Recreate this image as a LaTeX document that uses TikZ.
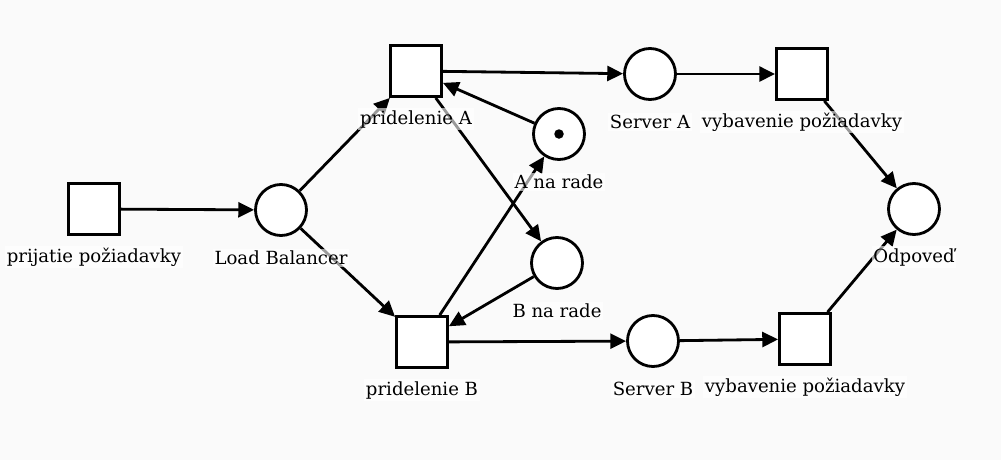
\documentclass[tikz,border=0pt]{standalone}
\usepackage{fontspec}
\setmainfont{DejaVu Serif}
\usetikzlibrary{arrows.meta}
\definecolor{bgcol}{HTML}{FAFAFA}
\tikzset{
  place/.style={circle, draw, line width=1.6pt, fill=white, minimum size=1.02cm, inner sep=0pt},
  trans/.style={rectangle, draw, line width=1.6pt, fill=white, minimum size=1.02cm, inner sep=0pt},
  arc/.style={line width=1.6pt, -{Triangle[length=9pt,width=8.5pt]}},
  lbl/.style={fill=white, fill opacity=0.6, text opacity=1, inner sep=1pt, font=\fontsize{10.3}{12}\selectfont}
}
\begin{document}
\begin{tikzpicture}
  \fill[bgcol] (0,0) rectangle (20.02,-9.2);
  \useasboundingbox (0,0) rectangle (20.02,-9.2);
  % places and transitions
  \node[trans] (prijatie) at (1.88,-4.18) {};
  \node[place] (lb) at (5.62,-4.20) {};
  \node[trans] (prA) at (8.32,-1.42) {};
  \node[place] (qA) at (11.18,-2.68) {};
  \node[place] (qB) at (11.14,-5.26) {};
  \node[trans] (prB) at (8.44,-6.84) {};
  \node[place] (srvA) at (13.00,-1.48) {};
  \node[trans] (vybA) at (16.04,-1.48) {};
  \node[place] (odp) at (18.28,-4.18) {};
  \node[place] (srvB) at (13.06,-6.82) {};
  \node[trans] (vybB) at (16.10,-6.78) {};
  \fill (qA) circle (0.095);
  % arcs
  \draw[arc] (prijatie) -- (lb);
  \draw[arc] (lb) -- (prA);
  \draw[arc] (lb) -- (prB);
  \draw[arc] (prA) -- (srvA);
  \draw[arc] (prA) -- (qB);
  \draw[arc] (qA) -- (prA);
  \draw[arc] (prB) -- (qA);
  \draw[arc] (qB) -- (prB);
  \draw[arc] (prB) -- (srvB);
  \draw[arc] (srvA) -- (vybA);
  \draw[arc] (vybA) -- (odp);
  \draw[arc] (srvB) -- (vybB);
  \draw[arc] (vybB) -- (odp);
  % labels
  \node[lbl] (lprijatie) at (1.88,-5.14) {prijatie požiadavky};
  \node[lbl] (llb) at (5.62,-5.16) {Load Balancer};
  \node[lbl] (lprA) at (8.32,-2.38) {pridelenie A};
  \node[lbl] (lqA) at (11.18,-3.64) {A na rade};
  \node[lbl] (lqB) at (11.14,-6.22) {B na rade};
  \node[lbl] (lprB) at (8.44,-7.80) {pridelenie B};
  \node[lbl] (lsrvA) at (13.00,-2.44) {Server A};
  \node[lbl] (lvybA) at (16.04,-2.44) {vybavenie požiadavky};
  \node[lbl] (lodp) at (18.28,-5.14) {Odpoveď};
  \node[lbl] (lsrvB) at (13.06,-7.78) {Server B};
  \node[lbl] (lvybB) at (16.10,-7.74) {vybavenie požiadavky};
\end{tikzpicture}
\end{document}
